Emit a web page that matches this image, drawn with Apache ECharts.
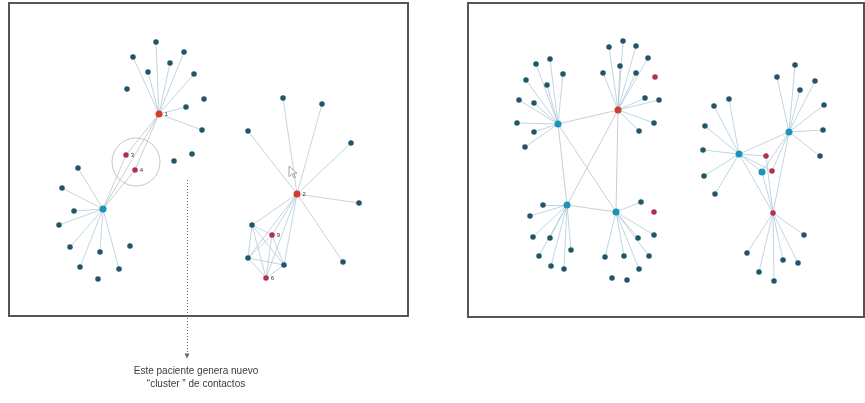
<!DOCTYPE html>
<html><head><meta charset="utf-8">
<script src="https://cdn.jsdelivr.net/npm/echarts@6/dist/echarts.min.js"></script>
<style>html,body{margin:0;padding:0;background:#fff}#c{width:865px;height:403px}</style>
</head><body><div id="c"></div>
<script>
// ---------- Left panel: network 1 ----------
const hubA = [159, 114];            // red hub "1"
const leavesA = [[156,42],[133,57],[184,52],[170,63],[148,72],[194,74],[186,107],[202,130]];
const hubB = [103, 209];            // teal hub
const leavesB = [[78,168],[62,188],[74,211],[59,225],[70,247],[100,252],[80,267],[119,269]];
const circledNodes = [[126,155,'3'],[135,170,'4']];
const looseLeft = [[127,89],[204,99],[192,154],[174,161],[130,246],[98,279]];
const circleCenter = [136, 162];
// ---------- Left panel: network 2 ----------
const hubC = [297, 194];            // red hub "2"
const leavesC = [[283,98],[322,104],[248,131],[351,143],[359,203],[343,262]];
const clusterC = [[252,225,'t',''],[272,235,'r','9'],[248,258,'t',''],[284,265,'t',''],[266,278,'r','6']];
const cursorAt = [[293,172]];
// ---------- Right panel ----------
const hubD = [558,124];
const leavesD = [[536,64],[550,59],[563,74],[526,80],[547,85],[519,100],[534,103],[517,123],[534,132],[525,147]];
const hubE = [618,110];
const leavesE = [[609,47],[623,41],[636,46],[648,58],[603,73],[620,66],[636,73],[645,98],[659,100],[654,123],[639,131]];
const hubF = [567,205];
const leavesF = [[543,205],[530,216],[533,237],[550,238],[571,250],[539,256],[551,266],[564,269]];
const hubG = [616,212];
const leavesG = [[641,202],[654,235],[638,238],[649,256],[624,256],[605,257],[639,269]];
const looseRight = [[612,278],[627,280]];
const redLooseRight = [[655,77],[654,212]];
const hubH = [739,154];
const leavesH = [[714,106],[729,99],[705,126],[703,150],[704,176],[715,194]];
const hubI = [789,132];
const leavesI = [[795,65],[777,77],[815,81],[800,90],[824,105],[823,130],[820,156]];
const hubJ = [773,213];
const leavesJ = [[804,235],[747,253],[783,260],[798,263],[759,272],[774,281]];
const midNodes = [[766,156,'r'],[772,171,'r'],[762,172,'t']];
// annotation
const arrowPath = [[187,180],[187,356]];
const noteLines = ['Este paciente genera nuevo', '\u201Ccluster \u201D de contactos'];

const COL = {leaf:'#1f5668', hub:'#1c93b8', red:'#b3304a', hubRed:'#cc3f2b', edge:'#a9c5d5', edge2:'#b4bcc4'};

function builder(){
  const nodes = [], links = [];
  let n = 0;
  function add(p, kind, label){
    const id = 'n' + (n++);
    const size = kind === 'hub' || kind === 'hubRed' ? 7 : 5.5;
    const item = {name:id, value:[p[0], p[1]], symbolSize:size, itemStyle:{color:COL[kind]}};
    if (label) item.label = {show:true, formatter:label, position:'right', distance:2, fontSize:6, color:'#333'};
    nodes.push(item);
    return id;
  }
  function link(a, b, color){ links.push({source:a, target:b, lineStyle:{color: color || COL.edge}}); }
  function star(hubId, leaves, kind){ return leaves.map(l => { const id = add(l, kind || 'leaf'); link(hubId, id); return id; }); }
  return {nodes, links, add, link, star};
}

// left panel
const L = builder();
const a = L.add(hubA, 'hubRed', '1');
const b = L.add(hubB, 'hub');
L.star(a, leavesA);
L.star(b, leavesB);
const cn = circledNodes.map(c => L.add(c, 'red', c[2]));
looseLeft.forEach(p => L.add(p, 'leaf'));
L.link(a, b, COL.edge2);
cn.forEach(id => { L.link(a, id, COL.edge2); L.link(b, id, COL.edge2); });
const c = L.add(hubC, 'hubRed', '2');
L.star(c, leavesC);
const kc = clusterC.map(k => L.add(k, k[2] === 'r' ? 'red' : 'leaf', k[3]));
kc.forEach(id => L.link(c, id));
for (let i = 0; i < kc.length; i++) for (let j = i + 1; j < kc.length; j++) L.link(kc[i], kc[j]);

// right panel
const R = builder();
const d = R.add(hubD, 'hub'), e = R.add(hubE, 'hubRed'), f = R.add(hubF, 'hub'), g = R.add(hubG, 'hub');
R.star(d, leavesD); R.star(e, leavesE); R.star(f, leavesF); R.star(g, leavesG);
looseRight.forEach(p => R.add(p, 'leaf'));
redLooseRight.forEach(p => R.add(p, 'red'));
[[d,e],[d,f],[d,g],[e,f],[e,g],[f,g]].forEach(p => R.link(p[0], p[1], COL.edge2));
const h = R.add(hubH, 'hub'), i2 = R.add(hubI, 'hub'), j = R.add(hubJ, 'red');
R.star(h, leavesH); R.star(i2, leavesI); R.star(j, leavesJ);
const mids = midNodes.map(m => R.add(m, m[2] === 'r' ? 'red' : 'hub'));
[[h,i2],[h,j],[i2,j],[h,mids[0]],[h,mids[1]],[i2,mids[2]],[i2,mids[1]],[j,mids[0]],[j,mids[2]],[h,mids[2]]].forEach(p => R.link(p[0], p[1]));

const chart = echarts.init(document.getElementById('c'), null, {renderer:'canvas'});
const hidden = {show:false};
chart.setOption({
  animation:false,
  backgroundColor:'#fff',
  grid:[
    {left:9, top:3, width:399, height:313, show:true, borderColor:'#555', borderWidth:2, backgroundColor:'#fff'},
    {left:468, top:3, width:396, height:314, show:true, borderColor:'#555', borderWidth:2, backgroundColor:'#fff'},
    {left:0, top:0, width:865, height:403}
  ],
  xAxis:[
    {gridIndex:0, type:'value', min:9, max:408, ...hidden},
    {gridIndex:1, type:'value', min:468, max:864, ...hidden},
    {gridIndex:2, type:'value', min:0, max:865, ...hidden}
  ],
  yAxis:[
    {gridIndex:0, type:'value', min:3, max:316, inverse:true, ...hidden},
    {gridIndex:1, type:'value', min:3, max:317, inverse:true, ...hidden},
    {gridIndex:2, type:'value', min:0, max:403, inverse:true, ...hidden}
  ],
  graphic:[{
    type:'text', x:196, y:365,
    style:{text:noteLines.join('\n'), align:'center', verticalAlign:'top', fill:'#3a3a3a',
           font:'10px "Liberation Sans", sans-serif', lineHeight:13}
  }],
  series:[
    {type:'scatter', xAxisIndex:0, yAxisIndex:0, silent:true, data:[circleCenter], symbolSize:48,
     itemStyle:{color:'rgba(0,0,0,0)', borderColor:'#b9b9b9', borderWidth:1}, z:1},
    {type:'graph', coordinateSystem:'cartesian2d', xAxisIndex:0, yAxisIndex:0, silent:true,
     symbol:'circle', data:L.nodes, links:L.links, lineStyle:{width:0.8, opacity:0.9}, z:2},
    {type:'scatter', xAxisIndex:0, yAxisIndex:0, silent:true, data:cursorAt, z:4,
     symbol:'path://M0,0 L0,16 L4,12 L7,18 L9,17 L6,11 L11,11 Z', symbolSize:[8,12],
     itemStyle:{color:'#fff', borderColor:'#777', borderWidth:0.8}},
    {type:'graph', coordinateSystem:'cartesian2d', xAxisIndex:1, yAxisIndex:1, silent:true,
     symbol:'circle', data:R.nodes, links:R.links, lineStyle:{width:0.8, opacity:0.9}, z:2},
    {type:'lines', coordinateSystem:'cartesian2d', xAxisIndex:2, yAxisIndex:2, silent:true,
     data:[{coords:arrowPath}], symbol:['none','triangle'], symbolSize:5,
     lineStyle:{type:[1,2], color:'#666', width:1, opacity:1}, z:3}
  ]
});
</script></body></html>
